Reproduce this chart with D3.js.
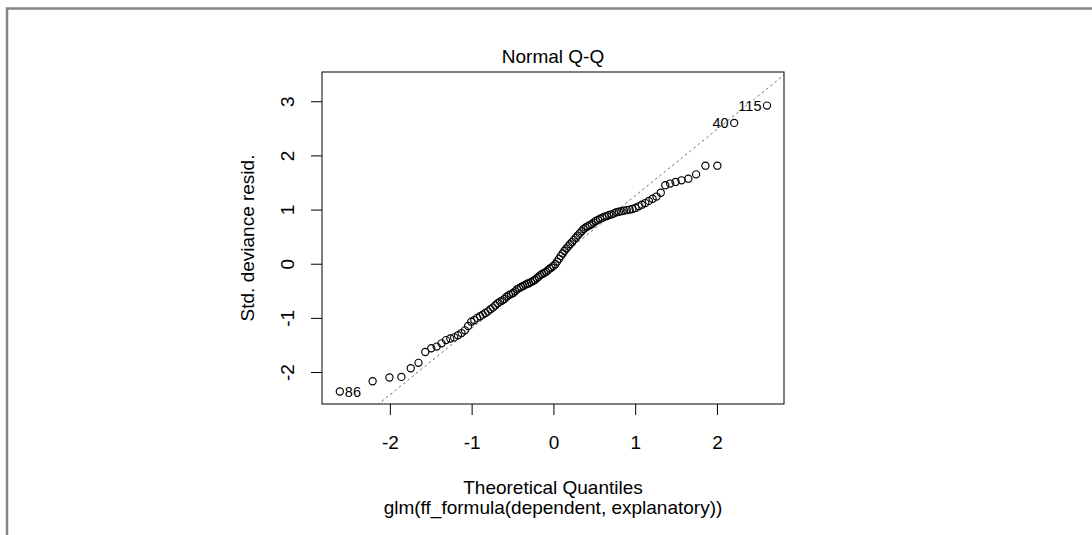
<!DOCTYPE html>
<html>
<head>
<meta charset="utf-8">
<script src="https://cdn.jsdelivr.net/npm/d3@7"></script>
<style>
  html, body { margin: 0; padding: 0; background: #fff; }
  svg { display: block; font-family: "Liberation Sans", Arial, sans-serif; }
</style>
</head>
<body>
<div id="chart"></div>
<script>
// Theoretical normal quantiles (x) and sorted std. deviance residuals (y)
const theoreticalQ = [
  -2.612, -2.211, -2.005, -1.859, -1.745, -1.650, -1.567, -1.494, -1.428, -1.368,
  -1.313, -1.261, -1.213, -1.167, -1.124, -1.082, -1.043, -1.004, -0.967, -0.932,
  -0.897, -0.864, -0.832, -0.800, -0.770, -0.740, -0.711, -0.682, -0.653, -0.626,
  -0.599, -0.572, -0.545, -0.519, -0.493, -0.468, -0.443, -0.418, -0.394, -0.369,
  -0.345, -0.321, -0.298, -0.274, -0.251, -0.228, -0.204, -0.181, -0.159, -0.136,
  -0.113, -0.090, -0.068, -0.045, -0.023, 0.000,
  0.023, 0.045, 0.068, 0.090, 0.113, 0.136, 0.159, 0.181, 0.204, 0.228,
  0.251, 0.274, 0.298, 0.321, 0.345, 0.369, 0.394, 0.418, 0.443, 0.468,
  0.493, 0.519, 0.545, 0.572, 0.599, 0.626, 0.653, 0.682, 0.711, 0.740,
  0.770, 0.800, 0.832, 0.864, 0.897, 0.932, 0.967, 1.004, 1.043, 1.082,
  1.124, 1.167, 1.213, 1.261, 1.313, 1.368, 1.428, 1.494, 1.567, 1.650,
  1.745, 1.859, 2.005, 2.211, 2.612
];
const stdDevResid = [
  -2.36, -2.17, -2.10, -2.09, -1.93, -1.83, -1.63, -1.56, -1.53, -1.47,
  -1.41, -1.38, -1.36, -1.32, -1.28, -1.23, -1.15, -1.07, -1.04, -1.00,
  -0.97, -0.94, -0.91, -0.88, -0.84, -0.81, -0.77, -0.73, -0.70, -0.68,
  -0.65, -0.61, -0.58, -0.56, -0.54, -0.51, -0.47, -0.45, -0.43, -0.41,
  -0.39, -0.37, -0.36, -0.34, -0.32, -0.30, -0.27, -0.24, -0.21, -0.19,
  -0.17, -0.15, -0.12, -0.09, -0.07, -0.04,
  -0.01, 0.04, 0.09, 0.14, 0.19, 0.24, 0.28, 0.32, 0.36, 0.40,
  0.44, 0.48, 0.52, 0.56, 0.60, 0.64, 0.67, 0.69, 0.71, 0.73,
  0.76, 0.79, 0.81, 0.83, 0.85, 0.87, 0.88, 0.90, 0.91, 0.93,
  0.95, 0.96, 0.97, 0.98, 0.99, 1.00, 1.01, 1.03, 1.06, 1.09,
  1.12, 1.16, 1.20, 1.24, 1.31, 1.45, 1.48, 1.51, 1.54, 1.57,
  1.65, 1.81, 1.81, 2.60, 2.92
];

// labelled observations (index into the sorted arrays, observation number)
const labelIdx = [0, 109, 110];
const labelText = ["86", "40", "115"];

// reference line (qqline)
const lineIntercept = 0.03;
const lineSlope = 1.225;

const xTicks = [-2, -1, 0, 1, 2];
const yTicks = [-2, -1, 0, 1, 2, 3];
const xDomain = [-2.83, 2.82];
const yDomain = [-2.59, 3.54];

const titleText = "Normal Q-Q";
const xLabel = "Theoretical Quantiles";
const subLabel = "glm(ff_formula(dependent, explanatory))";
const yLabel = "Std. deviance resid.";

const W = 1092, H = 535;
const box = {left: 322, right: 784, top: 72, bottom: 404};

// plain hyphen minus, as R prints it
const fmt = d => String(d);

const svg = d3.select("#chart")
  .append("svg")
    .attr("width", W)
    .attr("height", H);

// outer frame (top and left edges only are visible)
svg.append("path")
  .attr("d", `M7,${H} L7,8.5 L${W},8.5`)
  .attr("fill", "none")
  .attr("stroke", "#858585")
  .attr("stroke-width", 2.5);

const x = d3.scaleLinear().domain(xDomain).range([box.left, box.right]);
const y = d3.scaleLinear().domain(yDomain).range([box.bottom, box.top]);

// clip for the reference line
svg.append("clipPath").attr("id", "plotclip")
  .append("rect")
    .attr("x", box.left).attr("y", box.top)
    .attr("width", box.right - box.left).attr("height", box.bottom - box.top);

// x axis
const xAxis = svg.append("g")
  .attr("transform", `translate(0,${box.bottom})`)
  .call(d3.axisBottom(x).tickValues(xTicks).tickSize(11).tickPadding(0).tickFormat(fmt));
xAxis.select(".domain").remove();
xAxis.selectAll("line").attr("stroke", "#000");
xAxis.selectAll("text")
  .attr("y", 45)
  .attr("dy", 0)
  .attr("fill", "#000")
  .style("font-size", "19px")
  .style("font-family", "'Liberation Sans', Arial, sans-serif");

// y axis, labels parallel to the axis like R
const yAxis = svg.append("g")
  .attr("transform", `translate(${box.left},0)`)
  .call(d3.axisLeft(y).tickValues(yTicks).tickSize(11).tickFormat(fmt));
yAxis.select(".domain").remove();
yAxis.selectAll("line").attr("stroke", "#000");
yAxis.selectAll("text")
  .attr("x", 0)
  .attr("dy", 0)
  .attr("transform", "translate(-28,0) rotate(-90)")
  .attr("text-anchor", "middle")
  .attr("fill", "#000")
  .style("font-size", "19px")
  .style("font-family", "'Liberation Sans', Arial, sans-serif");

// reference line
const x0 = xDomain[0], x1 = xDomain[1];
svg.append("line")
  .attr("clip-path", "url(#plotclip)")
  .attr("x1", x(x0)).attr("y1", y(lineIntercept + lineSlope * x0))
  .attr("x2", x(x1)).attr("y2", y(lineIntercept + lineSlope * x1))
  .attr("stroke", "#6e6e6e")
  .attr("stroke-width", 1)
  .attr("stroke-dasharray", "2.5,3");

// points
const pts = theoreticalQ.map((q, i) => ({q: q, r: stdDevResid[i]}));
svg.append("g")
  .selectAll("circle")
  .data(pts)
  .join("circle")
    .attr("cx", d => x(d.q))
    .attr("cy", d => y(d.r))
    .attr("r", 3.6)
    .attr("fill", "none")
    .attr("stroke", "#000")
    .attr("stroke-width", 1.15);

// point labels
svg.append("g")
  .selectAll("text")
  .data(labelIdx)
  .join("text")
    .attr("x", i => theoreticalQ[i] < 0 ? x(theoreticalQ[i]) + 5 : x(theoreticalQ[i]) - 5.5)
    .attr("y", i => y(stdDevResid[i]))
    .attr("dy", "0.36em")
    .attr("text-anchor", i => theoreticalQ[i] < 0 ? "start" : "end")
    .style("font-size", "14.5px")
    .attr("fill", "#000")
    .text((i, k) => labelText[k]);

// box
svg.append("rect")
  .attr("x", box.left).attr("y", box.top)
  .attr("width", box.right - box.left).attr("height", box.bottom - box.top)
  .attr("fill", "none")
  .attr("stroke", "#000")
  .attr("stroke-width", 1);

// titles
const cx = (box.left + box.right) / 2;
svg.append("text")
  .attr("x", cx).attr("y", 63)
  .attr("text-anchor", "middle")
  .style("font-size", "19px")
  .text(titleText);

svg.append("text")
  .attr("x", cx).attr("y", 494)
  .attr("text-anchor", "middle")
  .style("font-size", "19px")
  .text(xLabel);

svg.append("text")
  .attr("x", cx).attr("y", 514)
  .attr("text-anchor", "middle")
  .style("font-size", "19px")
  .text(subLabel);

svg.append("text")
  .attr("transform", `translate(254,${(box.top + box.bottom) / 2}) rotate(-90)`)
  .attr("text-anchor", "middle")
  .style("font-size", "19px")
  .text(yLabel);
</script>
</body>
</html>
